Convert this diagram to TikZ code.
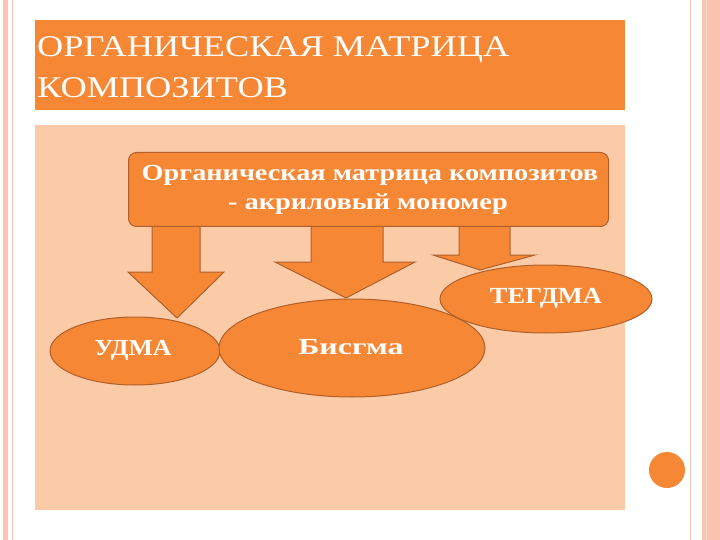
\documentclass[tikz,border=0pt]{standalone}
\usepackage{fontspec}
\setmainfont{Liberation Serif}
\usetikzlibrary{shapes.geometric}
\definecolor{org}{HTML}{F58735}
\definecolor{peach}{HTML}{FBCBA8}
\definecolor{pinks}{HTML}{F9C4B0}
\definecolor{edge}{HTML}{B0602A}
\tikzset{
  shp/.style={fill=org,draw=edge,line width=1pt},
  ell/.style={ellipse,shp,inner sep=0pt},
  lbl/.style={text=white,inner sep=0pt,font=\bfseries\fontsize{23}{27}\selectfont},
  arr/.style={shp,line join=miter}
}
\begin{document}
\begin{tikzpicture}[x=1pt,y=-1pt]
\useasboundingbox (0,0) rectangle (720,540);
\fill[white] (0,0) rectangle (720,540);
% side stripes
\fill[pinks] (3,0) rectangle (8,540);
\draw[pinks,line width=0.8pt] (12,0) -- (12,540);
\draw[pinks,line width=0.8pt] (690,0) -- (690,540);
\fill[pinks] (702,0) rectangle (720,540);
\draw[pinks!70!edge!40,line width=0.5pt] (706,0) -- (706,540);
% title
\node[fill=org,minimum width=590,minimum height=90,anchor=north west,inner sep=0] (title) at (35,20) {};
\node[anchor=west,text=white,inner sep=0,font=\fontsize{30}{30}\selectfont] (t1) at (37,50) {\scalebox{1.21}[1]{ОРГАНИЧЕСКАЯ МАТРИЦА}};
\node[anchor=west,text=white,inner sep=0,font=\fontsize{30}{30}\selectfont] (t2) at (37,88) {\scalebox{1.21}[1]{КОМПОЗИТОВ}};
% panel
\node[fill=peach,minimum width=590,minimum height=385,anchor=north west,inner sep=0] (panel) at (35,125) {};
% circle
\node[circle,fill=org,minimum size=36,inner sep=0] (dot) at (667,470) {};
% arrows
\draw[arr] (152,224) -- (200,224) -- (200,272) -- (224,272) -- (177,318) -- (128,272) -- (152,272) -- cycle;
\draw[arr] (311,224) -- (383,224) -- (383,262) -- (415,262) -- (346,298) -- (275,262) -- (311,262) -- cycle;
\draw[arr] (459,224) -- (510,224) -- (510,255) -- (535,255) -- (480,270) -- (433,255) -- (459,255) -- cycle;
% box
\node[shp,rounded corners=8pt,minimum width=480,minimum height=74,anchor=north west,inner sep=0] (box) at (128,152) {};
\node[lbl] (b1) at (370,175) {\scalebox{1.23}[1]{Органическая матрица композитов}};
\node[lbl] (b2) at (368,204) {\scalebox{1.23}[1]{- акриловый мономер}};
% ellipses
\node[ell,minimum width=170,minimum height=68] (udma) at (135,351) {};
\node[lbl] (ut) at (133,350) {\scalebox{1.12}[1]{УДМА}};
\node[ell,minimum width=212,minimum height=68] (teg) at (546,299) {};
\node[lbl] (tegt) at (546,298) {\scalebox{1.15}[1]{ТЕГДМА}};
\node[ell,minimum width=266,minimum height=98] (bis) at (352,348) {};
\node[lbl] (bt) at (351,347) {\scalebox{1.39}[1]{Бисгма}};
\end{tikzpicture}
\end{document}
